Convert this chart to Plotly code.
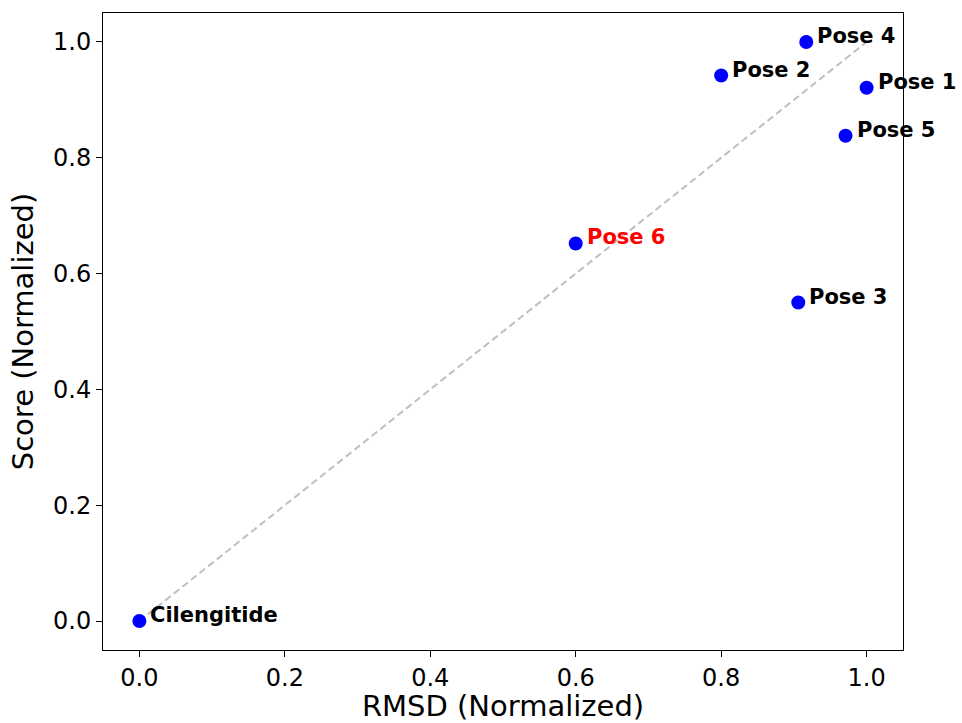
import plotly.graph_objects as go

names = ["Cilengitide", "Pose 1", "Pose 2", "Pose 3", "Pose 4", "Pose 5", "Pose 6"]
rmsd = [0.0, 1.0, 0.800, 0.906, 0.917, 0.971, 0.600]
score = [0.0, 0.921, 0.942, 0.550, 1.0, 0.838, 0.652]
label_colors = ["black", "black", "black", "black", "black", "black", "red"]
diag = [0.0, 1.0]
ticks = [0.0, 0.2, 0.4, 0.6, 0.8, 1.0]
tick_text = ["0.0", "0.2", "0.4", "0.6", "0.8", "1.0"]

FONT = "DejaVu Sans"

fig = go.Figure()
fig.add_trace(go.Scatter(
    x=diag, y=diag, mode="lines",
    line=dict(color="#bfbfbf", width=2, dash="7px,4px"),
    hoverinfo="skip", showlegend=False,
))
fig.add_trace(go.Scatter(
    x=rmsd, y=score, mode="markers",
    marker=dict(color="#0000ff", size=14, line=dict(width=0)),
    showlegend=False,
))

for n, xv, yv, c in zip(names, rmsd, score, label_colors):
    fig.add_annotation(
        x=xv, y=yv, text="<b>" + n + "</b>", showarrow=False,
        xanchor="left", yanchor="middle", xshift=9, yshift=6,
        font=dict(family=FONT, size=21, color=c),
    )

axis_common = dict(
    range=[-0.05, 1.05], tickvals=ticks, ticktext=tick_text,
    showgrid=False, zeroline=False, showline=True, linecolor="black",
    linewidth=1, mirror=True, ticks="outside", ticklen=6, tickwidth=1,
    tickcolor="black", tickfont=dict(family=FONT, size=24, color="black"),
    automargin=False,
)

fig.update_layout(
    width=962, height=723,
    margin=dict(l=103, r=59, t=13, b=73),
    paper_bgcolor="white", plot_bgcolor="white",
    font=dict(family=FONT, color="black"),
    xaxis=dict(**axis_common,
               title=dict(text="RMSD (Normalized)", font=dict(family=FONT, size=29, color="black"), standoff=6)),
    yaxis=dict(**axis_common,
               title=dict(text="Score (Normalized)", font=dict(family=FONT, size=29, color="black"), standoff=10)),
)

fig.write_html("out.html")
